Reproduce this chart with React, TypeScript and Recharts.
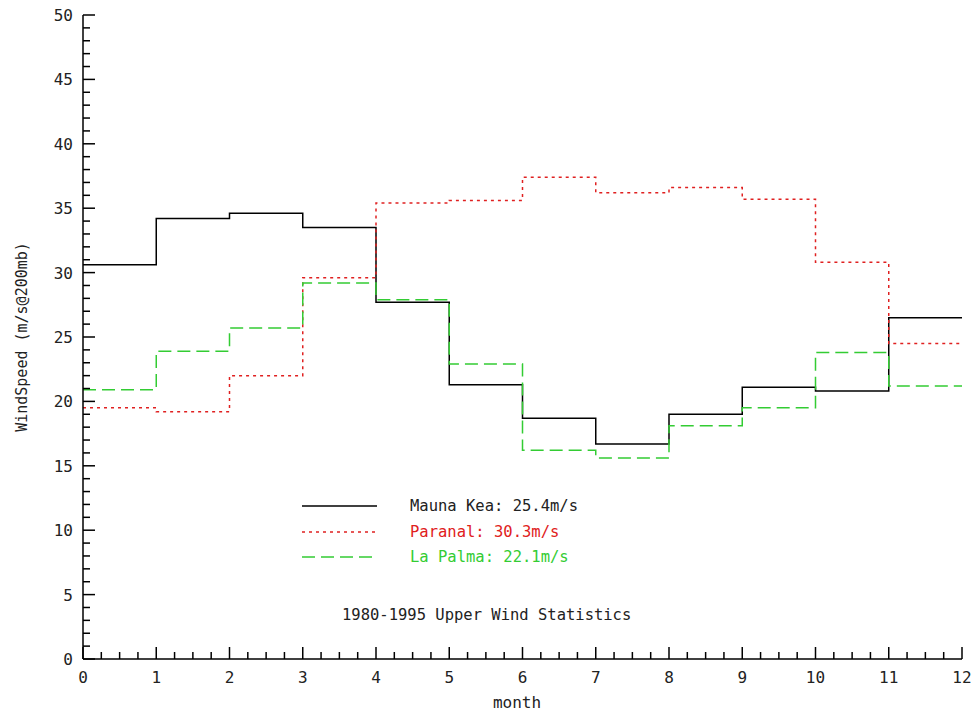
import React from 'react';
import { LineChart, Line, XAxis, YAxis, Customized } from 'recharts';

// Month boundaries (0..12) and monthly mean wind speeds (m/s @ 200mb)
const months = [0, 1, 2, 3, 4, 5, 6, 7, 8, 9, 10, 11, 12];
const maunaKea = [30.6, 34.2, 34.6, 33.5, 27.7, 21.3, 18.7, 16.7, 19.0, 21.1, 20.8, 26.5];
const paranal = [19.5, 19.2, 22.0, 29.6, 35.4, 35.6, 37.4, 36.2, 36.6, 35.7, 30.8, 24.5];
const laPalma = [20.9, 23.9, 25.7, 29.2, 27.9, 22.9, 16.2, 15.6, 18.1, 19.5, 23.8, 21.2];

const seriesNames = ['Mauna Kea', 'Paranal', 'La Palma'];
const seriesMeans = ['25.4m/s', '30.3m/s', '22.1m/s'];
const title = '1980-1995 Upper Wind Statistics';
const xLabel = 'month';
const yLabel = 'WindSpeed (m/s@200mb)';

const xMajorTicks = [0, 1, 2, 3, 4, 5, 6, 7, 8, 9, 10, 11, 12];
const yMajorTicks = [0, 5, 10, 15, 20, 25, 30, 35, 40, 45, 50];

// minor ticks: quarter months on x, unit steps on y
const xTicks: number[] = [];
for (let i = 0; i <= 48; i++) xTicks.push(i / 4);
const yTicks: number[] = [];
for (let i = 0; i <= 50; i++) yTicks.push(i);

// step ends at month 12 carrying December's value
const data = months.map((m, i) => ({
  month: m,
  maunaKea: maunaKea[Math.min(i, maunaKea.length - 1)],
  paranal: paranal[Math.min(i, paranal.length - 1)],
  laPalma: laPalma[Math.min(i, laPalma.length - 1)],
}));

const FONT = '"DejaVu Sans Mono", monospace';
const TXT = '#222';
const RED = '#e02020';
const GREEN = '#33cc33';
const MAJOR = 12;
const MINOR = 7;

const isMajorX = (v: number) => xMajorTicks.includes(v);
const isMajorY = (v: number) => yMajorTicks.includes(v);

const BottomTick = (p: any) => {
  const v = p.payload.value;
  const major = isMajorX(v);
  return (
    <g>
      <line x1={p.x} x2={p.x} y1={p.y} y2={p.y - (major ? MAJOR : MINOR)} stroke="#000" strokeWidth={1.5} />
      {major && (
        <text x={p.x} y={p.y + 24} textAnchor="middle" fontFamily={FONT} fontSize={16} fill={TXT}>
          {v}
        </text>
      )}
    </g>
  );
};

const TopTick = (p: any) => {
  const v = p.payload.value;
  const major = isMajorX(v);
  return <line x1={p.x} x2={p.x} y1={p.y} y2={p.y + (major ? MAJOR : MINOR)} stroke="#000" strokeWidth={1.5} />;
};

const LeftTick = (p: any) => {
  const v = p.payload.value;
  const major = isMajorY(v);
  return (
    <g>
      <line x1={p.x} x2={p.x + (major ? MAJOR : MINOR)} y1={p.y} y2={p.y} stroke="#000" strokeWidth={1.5} />
      {major && (
        <text x={p.x - 10} y={p.y + 6} textAnchor="end" fontFamily={FONT} fontSize={16} fill={TXT}>
          {v}
        </text>
      )}
    </g>
  );
};

const RightTick = (p: any) => {
  const v = p.payload.value;
  const major = isMajorY(v);
  return <line x1={p.x} x2={p.x - (major ? MAJOR : MINOR)} y1={p.y} y2={p.y} stroke="#000" strokeWidth={1.5} />;
};

const Annotations = () => {
  const rows = [
    { y: 506, color: '#000', dash: undefined as string | undefined, tc: TXT },
    { y: 532, color: RED, dash: '3 4', tc: RED },
    { y: 557, color: GREEN, dash: '13 6', tc: GREEN },
  ];
  return (
    <g fontFamily={FONT} fontSize={15.5}>
      {rows.map((r, i) => (
        <g key={i}>
          <line x1={302} x2={377} y1={r.y} y2={r.y} stroke={r.color} strokeWidth={1.5} strokeDasharray={r.dash} />
          <text x={410} y={r.y + 5} fill={r.tc}>
            {seriesNames[i]}: {seriesMeans[i]}
          </text>
        </g>
      ))}
      <text x={342} y={620} fill={TXT}>{title}</text>
      <text x={517} y={708} textAnchor="middle" fill={TXT} fontSize={16}>{xLabel}</text>
      <text x={0} y={0} transform="translate(27,337) rotate(-90)" textAnchor="middle" fill={TXT} fontSize={15}>
        {yLabel}
      </text>
    </g>
  );
};

export default function App() {
  const axisLine = { stroke: '#000', strokeWidth: 1.5 };
  return (
    <div style={{ position: 'absolute', left: 0, top: 0, width: 976, height: 713, background: '#fff' }}>
      <LineChart width={976} height={713} data={data} margin={{ top: 15, right: 14, bottom: 0, left: 0 }}>
        <XAxis xAxisId="b" dataKey="month" type="number" domain={[0, 12]} ticks={xTicks} interval={0}
          tick={BottomTick} tickLine={false} tickSize={0} tickMargin={0} axisLine={axisLine} height={54} allowDataOverflow />
        <XAxis xAxisId="t" orientation="top" dataKey="month" type="number" domain={[0, 12]} ticks={xTicks} interval={0}
          tick={TopTick} tickLine={false} tickSize={0} tickMargin={0} axisLine={axisLine} height={0} allowDataOverflow />
        <YAxis yAxisId="l" type="number" domain={[0, 50]} ticks={yTicks} interval={0}
          tick={LeftTick} tickLine={false} tickSize={0} tickMargin={0} axisLine={axisLine} width={83} allowDataOverflow />
        <YAxis yAxisId="r" orientation="right" type="number" domain={[0, 50]} ticks={yTicks} interval={0}
          tick={RightTick} tickLine={false} tickSize={0} tickMargin={0} axisLine={axisLine} width={0} allowDataOverflow />
        <Line xAxisId="b" yAxisId="l" type="stepAfter" dataKey="maunaKea" stroke="#000" strokeWidth={1.5}
          dot={false} isAnimationActive={false} />
        <Line xAxisId="b" yAxisId="l" type="stepAfter" dataKey="paranal" stroke={RED} strokeWidth={1.5}
          strokeDasharray="3 4" dot={false} isAnimationActive={false} />
        <Line xAxisId="b" yAxisId="l" type="stepAfter" dataKey="laPalma" stroke={GREEN} strokeWidth={1.5}
          strokeDasharray="13 6" dot={false} isAnimationActive={false} />
        <Customized component={Annotations} />
      </LineChart>
    </div>
  );
}
